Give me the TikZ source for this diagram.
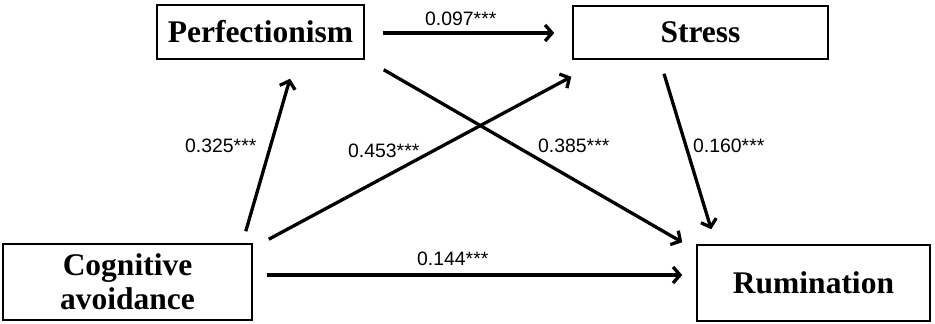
\documentclass[tikz,border=0pt]{standalone}
\usepackage{fontspec}
\setmainfont{Liberation Serif}
\newfontfamily\labfont{Liberation Sans}
\usetikzlibrary{arrows.meta,calc}
\tikzset{
  varbox/.style={draw, line width=1.5pt, inner sep=0pt, align=center,
    font=\fontsize{31.5}{34}\selectfont\bfseries},
  path arrow/.style={line width=3.3pt, -{Straight Barb[length=7pt,width=16pt,line width=3.3pt]}},
  coef/.style={font=\labfont\fontsize{19.4}{22}\selectfont, inner sep=0pt, anchor=base west}
}
\begin{document}
\begin{tikzpicture}[x=1pt,y=-1pt]
\useasboundingbox (0,0) rectangle (935,324);
\fill[white] (0,0) rectangle (935,324);
\node[varbox, minimum width=207pt, minimum height=54pt] (perf) at (260.5,32) {Perfectionism};
\node[varbox, minimum width=255pt, minimum height=53pt] (stress) at (700.5,32.5) {Stress};
\node[varbox, minimum width=249pt, minimum height=76pt] (cog) at (127.5,282) {Cognitive\\avoidance};
\node[varbox, minimum width=233pt, minimum height=76pt] (rum) at (813.5,283) {Rumination};

\draw[path arrow] ($(perf.east)+(18,1)$) -- ($(stress.west)+(-18,0.5)$);
\draw[path arrow] ($(cog.north east)+(-7,-12)$) -- ($(perf.south)+(29.5,19)$);
\draw[path arrow] ($(cog.north east)+(16,-4)$) -- ($(stress.south west)+(-1,17)$);
\draw[path arrow] ($(perf.south east)+(19,10)$) -- ($(rum.north west)+(-14,-2)$);
\draw[path arrow] ($(stress.south)+(-36.5,14)$) -- ($(rum.north west)+(15,-15)$);
\draw[path arrow] ($(cog.east)+(14,-7)$) -- ($(rum.west)+(-14,-8)$);

\node[coef] (c1) at (425,25) {0.097***};
\node[coef] (c2) at (185,152) {0.325***};
\node[coef] (c3) at (348,157) {0.453***};
\node[coef] (c4) at (538,152) {0.385***};
\node[coef] (c5) at (693,152) {0.160***};
\node[coef] (c6) at (417,265) {0.144***};
\end{tikzpicture}
\end{document}
